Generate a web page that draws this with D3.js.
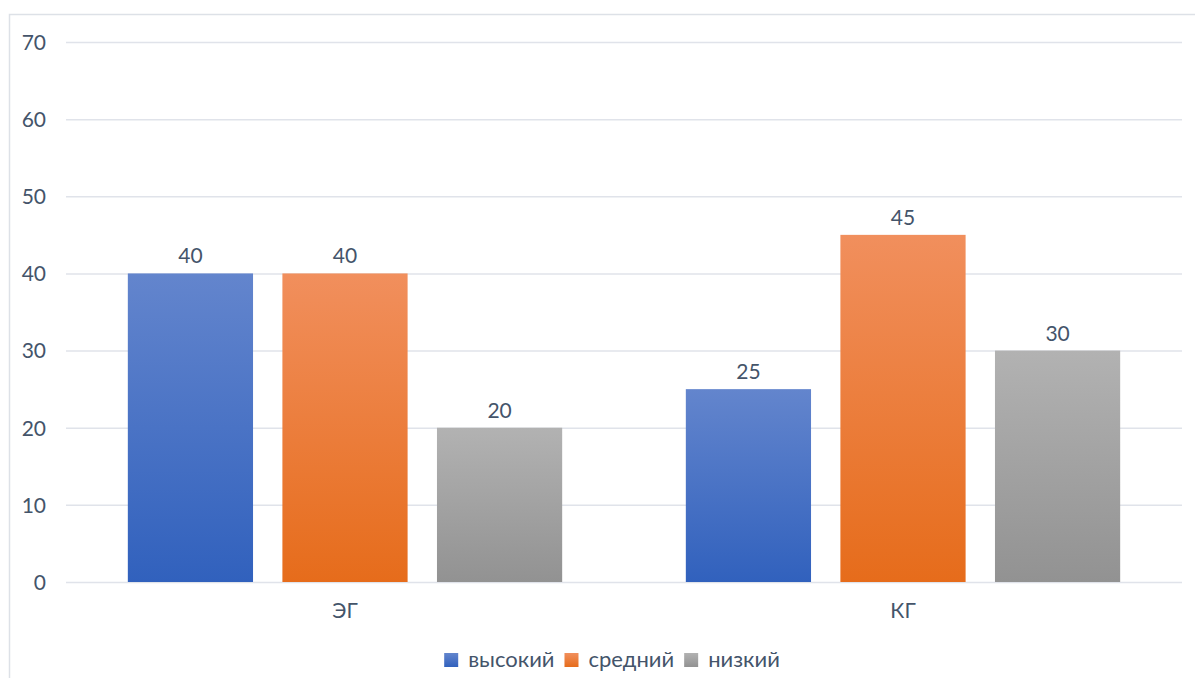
<!DOCTYPE html>
<html>
<head>
<meta charset="utf-8">
<script src="https://cdn.jsdelivr.net/npm/d3@7"></script>
<style>
  body { margin: 0; background: #fff; }
  svg { display: block; font-family: Lato, "Open Sans", sans-serif; }
</style>
</head>
<body>
<svg id="chart" width="1195" height="678"></svg>
<script>
var groups = ["ЭГ", "КГ"];
var seriesNames = ["высокий", "средний", "низкий"];
var highValues = [40, 25];
var midValues = [40, 45];
var lowValues = [20, 30];
var yTicks = [0, 10, 20, 30, 40, 50, 60, 70];

var seriesValues = [highValues, midValues, lowValues];
var colors = [
  { top: "#6385cd", bottom: "#3161bd" },
  { top: "#f18f5d", bottom: "#e66c1b" },
  { top: "#b2b2b2", bottom: "#929292" }
];
var textColor = "#44546a";
var fontSize = 21;

var svg = d3.select("#chart");
var margin = { left: 66, right: 13, top: 42, bottom: 96 };
var width = 1195, height = 678;

// chart frame
svg.append("rect")
  .attr("x", 9.5).attr("y", 14.5)
  .attr("width", 1200).attr("height", 700)
  .attr("fill", "none").attr("stroke", "#dde1e7").attr("stroke-width", 1.5);

var x0 = d3.scaleBand().domain(groups)
  .range([margin.left, width - margin.right]);
var x1 = d3.scaleBand().domain(d3.range(seriesNames.length))
  .range([0, x0.bandwidth()]).paddingInner(0.19).paddingOuter(0.4);
var y = d3.scaleLinear().domain([0, 70])
  .range([height - margin.bottom, margin.top]);

var defs = svg.append("defs");
colors.forEach(function (c, i) {
  var g = defs.append("linearGradient").attr("id", "grad" + i)
    .attr("x1", 0).attr("y1", 0).attr("x2", 0).attr("y2", 1);
  g.append("stop").attr("offset", "0%").attr("stop-color", c.top);
  g.append("stop").attr("offset", "100%").attr("stop-color", c.bottom);
});

// gridlines
var yAxis = d3.axisLeft(y).tickValues(yTicks)
  .tickSize(-(width - margin.left - margin.right));
var gy = svg.append("g").attr("transform", "translate(" + margin.left + ",0)").call(yAxis);
gy.select(".domain").remove();
gy.selectAll(".tick line").attr("stroke", "#e0e3ea").attr("stroke-width", 1.5);
gy.selectAll(".tick text").attr("fill", textColor).attr("font-size", fontSize)
  .attr("font-family", "Lato, sans-serif")
  .attr("text-anchor", "end").attr("x", -20).attr("dy", "0.35em");

// bars
var gBars = svg.append("g");
groups.forEach(function (grp, gi) {
  seriesValues.forEach(function (vals, si) {
    var v = vals[gi];
    var bx = x0(grp) + x1(si);
    gBars.append("rect")
      .attr("x", bx).attr("y", y(v))
      .attr("width", x1.bandwidth()).attr("height", y(0) - y(v))
      .attr("fill", "url(#grad" + si + ")");
    gBars.append("text")
      .attr("x", bx + x1.bandwidth() / 2).attr("y", y(v) - 10)
      .attr("text-anchor", "middle").attr("fill", textColor).attr("font-size", fontSize)
      .text(v);
  });
});

// x axis labels
var xAxis = d3.axisBottom(x0).tickSize(0).tickPadding(21);
var gx = svg.append("g").attr("transform", "translate(0," + y(0) + ")").call(xAxis);
gx.select(".domain").remove();
gx.selectAll(".tick text").attr("fill", textColor).attr("font-size", fontSize)
  .attr("font-family", "Lato, sans-serif");

// legend, centred under the plot
var legend = svg.append("g");
var lx = 0;
seriesNames.forEach(function (name, i) {
  var item = legend.append("g").attr("transform", "translate(" + lx + ",0)");
  item.append("rect").attr("x", 0).attr("y", -7).attr("width", 14).attr("height", 14)
    .attr("fill", "url(#grad" + i + ")");
  var t = item.append("text").attr("x", 24).attr("y", 7)
    .attr("fill", textColor).attr("font-size", 22).text(name);
  lx += 24 + t.node().getComputedTextLength() + (i < seriesNames.length - 1 ? 10 : 0);
});
legend.attr("transform", "translate(" + (612 - lx / 2) + ",660)");
</script>
</body>
</html>
